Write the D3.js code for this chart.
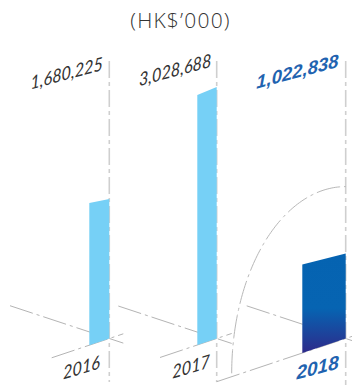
<!DOCTYPE html>
<html>
<head>
<meta charset="utf-8">
<script src="https://cdn.jsdelivr.net/npm/d3@7"></script>
<style>
  html, body { margin: 0; padding: 0; background: #fff; }
  svg { display: block; }
</style>
</head>
<body>
<svg id="chart" width="352" height="385"></svg>
<script>
// Profit figures, HK$'000
const years = ["2016", "2017", "2018"];
const values = [1680225, 3028688, 1022838];
const unitLabel = "(HK$\u2019000)";

const W = 352, H = 385;
const svg = d3.select("#chart");

// Each bar hangs off its own vertical dash-dot guide; the bars sit on a
// receding floor line so they read as panels seen in perspective.
const guideX = d3.scaleOrdinal().domain(years).range([109.3, 216.7, 345.7]);
const barWidth = d3.scaleOrdinal().domain(years).range([20, 19.4, 43.4]);
const topTilt = d3.scaleOrdinal().domain(years).range([0.2, 0.4, 0.25]);
const floorY = 338.5;
const floorSlope = 0.335;   // rise of the floor line toward the right
const depthSlope = 0.33;    // fall of the depth line toward the right

const h = d3.scaleLinear().domain([0, 3500000]).range([0, 290.5]);
const fmt = d3.format(",");

const lightBlue = "#76d0f6";
const strongBlue = "#1f63b0";

const defs = svg.append("defs");
const grad = defs.append("linearGradient")
  .attr("id", "grad2018").attr("x1", 0).attr("y1", 0).attr("x2", 0).attr("y2", 1);
grad.append("stop").attr("offset", 0).attr("stop-color", "#0563b1");
grad.append("stop").attr("offset", 0.55).attr("stop-color", "#0664b2");
grad.append("stop").attr("offset", 1).attr("stop-color", "#2e2a8a");

// --- guide lines -----------------------------------------------------------
const guides = svg.append("g").attr("fill", "none");
const dashV = "17,4,4,4";
const dashD = "24,4,3,4";

// vertical guides
years.forEach((yr, i) => {
  const x = guideX(yr);
  guides.append("line")
    .attr("x1", x).attr("x2", x)
    .attr("y1", 61).attr("y2", i === 2 ? H : 382)
    .attr("stroke", "#cfcfcf").attr("stroke-width", 1.6)
    .attr("stroke-dasharray", dashV);
});

// floor and depth lines through each guide's foot
const floorLeft = [57.6, 56.7, 129];
const floorRight = [14, 15, 10];
const depthLeft = [99.3, 98.4, 99];
const depthRight = [14, 15, 10];
years.forEach((yr, i) => {
  const x = guideX(yr);
  guides.append("line")
    .attr("x1", x - floorLeft[i]).attr("y1", floorY + floorSlope * floorLeft[i])
    .attr("x2", x + floorRight[i]).attr("y2", floorY - floorSlope * floorRight[i])
    .attr("stroke", "#b4b4b4").attr("stroke-width", 1)
    .attr("stroke-dasharray", dashD);
  guides.append("line")
    .attr("x1", x - depthLeft[i]).attr("y1", floorY - depthSlope * depthLeft[i])
    .attr("x2", x + depthRight[i]).attr("y2", floorY + depthSlope * depthRight[i])
    .attr("stroke", "#b4b4b4").attr("stroke-width", 1)
    .attr("stroke-dasharray", dashD);
});

// quarter arc sweeping up to the 2018 guide
const cx = guideX("2018"), cy = 373.3, rx = 114, ry = 186.7;
const arcPts = d3.range(0, 91, 1).map(a => {
  const t = (180 + a) * Math.PI / 180;
  return [cx + rx * Math.cos(t), cy + ry * Math.sin(t)];
});
guides.append("path")
  .attr("d", d3.line()(arcPts))
  .attr("stroke", "#b8b8b8").attr("stroke-width", 1)
  .attr("stroke-dasharray", dashD);

// --- bars ------------------------------------------------------------------
svg.append("g").selectAll("path")
  .data(years.map((yr, i) => ({ yr, v: values[i], i })))
  .join("path")
  .attr("d", d => {
    const xr = guideX(d.yr), w = barWidth(d.yr);
    const xl = xr - w;
    const brY = floorY, blY = floorY + floorSlope * w;
    const trY = floorY - h(d.v), tlY = trY + topTilt(d.yr) * w;
    return `M${xl},${blY}L${xr},${brY}L${xr},${trY}L${xl},${tlY}Z`;
  })
  .attr("fill", d => d.i === 2 ? "url(#grad2018)" : lightBlue);

// --- text ------------------------------------------------------------------
svg.append("text")
  .attr("x", 180.5).attr("y", 28)
  .attr("text-anchor", "middle")
  .attr("font-family", "'Open Sans', sans-serif")
  .attr("font-weight", 300)
  .attr("font-size", 21)
  .attr("letter-spacing", 1.2)
  .attr("fill", "#333")
  .text(unitLabel);

const valueEnd = [[103, 70], [211.5, 66.7], [338.5, 66.7]];
const yearEnd = [[100, 368.3], [210, 367.3], [338.7, 368.3]];

years.forEach((yr, i) => {
  const latest = i === years.length - 1;
  const sx = latest ? 1 : 0.88;
  svg.append("text")
    .attr("transform", `translate(${valueEnd[i][0]},${valueEnd[i][1]}) skewY(-15) scale(${sx},1)`)
    .attr("text-anchor", "end")
    .attr("font-family", latest ? "'Liberation Sans', Arial, sans-serif" : "Lato, sans-serif")
    .attr("font-weight", latest ? 700 : 400)
    .attr("font-style", "italic")
    .attr("font-size", 18.5)
    .attr("fill", latest ? strongBlue : "#333")
    .text(fmt(values[i]));

  svg.append("text")
    .attr("transform", `translate(${yearEnd[i][0]},${yearEnd[i][1]}) skewY(${latest ? -15 : -17}) scale(${sx},1)`)
    .attr("text-anchor", "end")
    .attr("font-family", latest ? "'Liberation Sans', Arial, sans-serif" : "Lato, sans-serif")
    .attr("font-weight", latest ? 700 : 400)
    .attr("font-style", "italic")
    .attr("font-size", latest ? 19 : 18.5)
    .attr("fill", latest ? strongBlue : "#333")
    .text(yr);
});
</script>
</body>
</html>
